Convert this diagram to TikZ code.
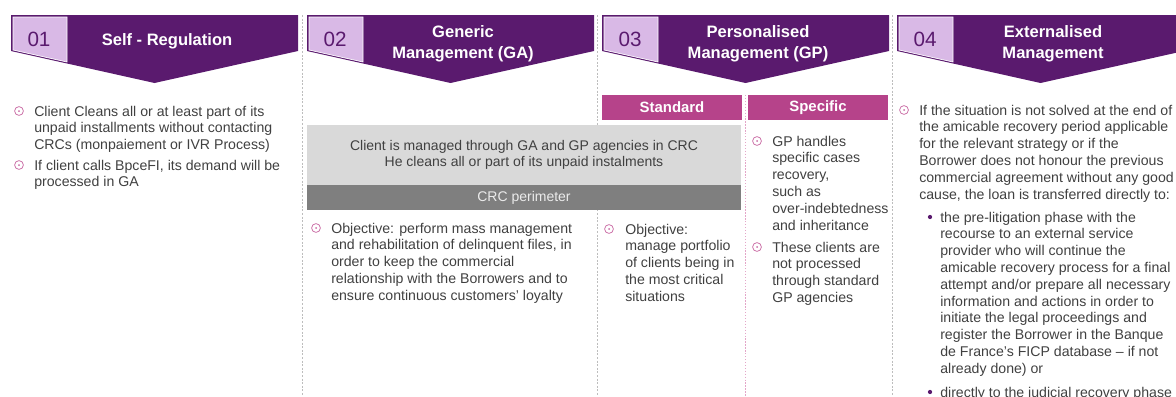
\documentclass[tikz,border=0pt]{standalone}
\usepackage{fontspec}
\setmainfont{Liberation Sans}
\definecolor{dpurple}{HTML}{5A1A6E}
\definecolor{lpurple}{HTML}{D9B9E6}
\definecolor{mag}{HTML}{B6438A}
\definecolor{bpink}{HTML}{C96AA3}
\definecolor{txtgray}{HTML}{404040}
\definecolor{lgray}{HTML}{D9D9D9}
\definecolor{dgray}{HTML}{7F7F7F}
\definecolor{sepgray}{HTML}{BDBDBD}
\definecolor{seppink}{HTML}{E3A6C8}
\tikzset{
  chev/.style={fill=dpurple, draw=none},
  numbox/.style={fill=lpurple, draw=white, line width=0.5pt},
  numtxt/.style={text=dpurple, font=\fontsize{15.5pt}{18pt}\selectfont, inner sep=0pt},
  ttl/.style={text=white, font=\bfseries\fontsize{12.4pt}{15.8pt}\selectfont, align=center, inner sep=0pt},
  body/.style={text=txtgray, font=\fontsize{10.6pt}{12.6pt}\selectfont, align=left, anchor=north west, inner sep=0pt},
  ctext/.style={text=txtgray, font=\fontsize{10.5pt}{12pt}\selectfont, align=center, inner sep=0pt},
  bul/.style={circle, draw=bpink, inner sep=0pt, minimum size=6.6pt, line width=0.55pt,
    path picture={\fill[bpink] (path picture bounding box.center) circle (0.75pt);}},
  subdot/.style={circle, fill=dpurple, inner sep=0pt, minimum size=3.2pt},
  bar/.style={fill=mag, draw=none},
  bartxt/.style={text=white, font=\bfseries\fontsize{11.2pt}{13pt}\selectfont, inner sep=0pt},
  colsep/.style={draw=sepgray, line width=0.5pt, dash pattern=on 1.5pt off 1.2pt},
  pinksep/.style={draw=seppink, line width=0.6pt, dash pattern=on 1pt off 1.2pt},
}
\begin{document}
\begin{tikzpicture}[x=0.75pt, y=-0.75pt]
\useasboundingbox (0,0) rectangle (1176,396);

% column separators
\coordinate (s1t) at (302,15); \coordinate (s1b) at (302,396);
\coordinate (s2t) at (597,15); \coordinate (s2b) at (597,396);
\coordinate (s3t) at (892,15); \coordinate (s3b) at (892,396);
\coordinate (s4t) at (745,95); \coordinate (s4b) at (745,396);
\draw[colsep] (s1t) -- (s1b);
\draw[colsep] (s2t) -- (s2b);
\draw[colsep] (s3t) -- (s3b);
\draw[pinksep] (s4t) -- (s4b);

% chevrons
\foreach \L/\num/\ttltext/\ty in {11/01/{Self - Regulation}/41, 307/02/{Generic\\Management (GA)}/43.5, 602/03/{Personalised\\Management (GP)}/43.5, 897/04/{Externalised\\Management}/43.5}{
  \fill[chev] (\L,15) -- (\L+287,15) -- (\L+287,51) -- (\L+143.5,83) -- (\L,51) -- cycle;
  \path[numbox] (\L+2,17) -- (\L+56,17) -- (\L+56,62) -- (\L+2,50) -- cycle;
  \node[numtxt] (n\num) at (\L+28,39) {\num};
  \node[ttl] (t\num) at (\L+156,\ty) {\ttltext};
}

% Standard / Specific bars
\path[bar] (602,95) rectangle (742,120);
\path[bar] (748,95) rectangle (888,120);
\node[bartxt] (std) at (672,107.5) {Standard};
\node[bartxt] (spc) at (818,107.5) {Specific};

% CRC gray box
\fill[lgray] (307,125) rectangle (741,185);
\fill[dgray] (307,185) rectangle (741,210);
\node[ctext] (crc) at (524,155) {Client is managed through GA and GP agencies in CRC\\He cleans all or part of its unpaid instalments};
\node[ctext, text=white!92!black] (crcp) at (524,198) {CRC perimeter};

% column 1
\node[bul] (b11) at (19,111) {};
\node[body] (x11) at (34,105.5) {Client Cleans all or at least part of its\\unpaid installments without contacting\\CRCs (monpaiement or IVR Process)};
\node[bul] (b12) at (19,165) {};
\node[body] (x12) at (34,159.5) {If client calls BpceFI, its demand will be\\processed in GA};

% column 2
\node[bul] (b21) at (316,228) {};
\node[body] (x21) at (331,222.5) {Objective: perform mass management\\and rehabilitation of delinquent files, in\\order to keep the commercial\\relationship with the Borrowers and to\\ensure continuous customers’ loyalty};

% column 3 standard
\node[bul] (b31) at (609,229) {};
\node[body] (x31) at (625,223.5) {Objective:\\manage portfolio\\of clients being in\\the most critical\\situations};

% column 3 specific
\node[bul] (b32) at (757,141) {};
\node[body] (x32) at (772,135.5) {GP handles\\specific cases\\recovery,\\such as\\over-indebtedness\\and inheritance};
\node[bul] (b33) at (757,247) {};
\node[body] (x33) at (772,241.5) {These clients are\\not processed\\through standard\\GP agencies};

% column 4
\node[bul] (b41) at (904,110) {};
\node[body] (x41) at (919,104.5) {If the situation is not solved at the end of\\the amicable recovery period applicable\\for the relevant strategy or if the\\Borrower does not honour the previous\\commercial agreement without any good\\cause, the loan is transferred directly to:};
\node[subdot] (d41) at (930,217) {};
\node[body] (y41) at (940,211.5) {the pre-litigation phase with the\\recourse to an external service\\provider who will continue the\\amicable recovery process for a final\\attempt and/or prepare all necessary\\information and actions in order to\\initiate the legal proceedings and\\register the Borrower in the Banque\\de France’s FICP database -- if not\\already done) or};
\node[subdot] (d42) at (930,392) {};
\node[body] (y42) at (940,386.5) {directly to the judicial recovery phase};
\end{tikzpicture}
\end{document}
